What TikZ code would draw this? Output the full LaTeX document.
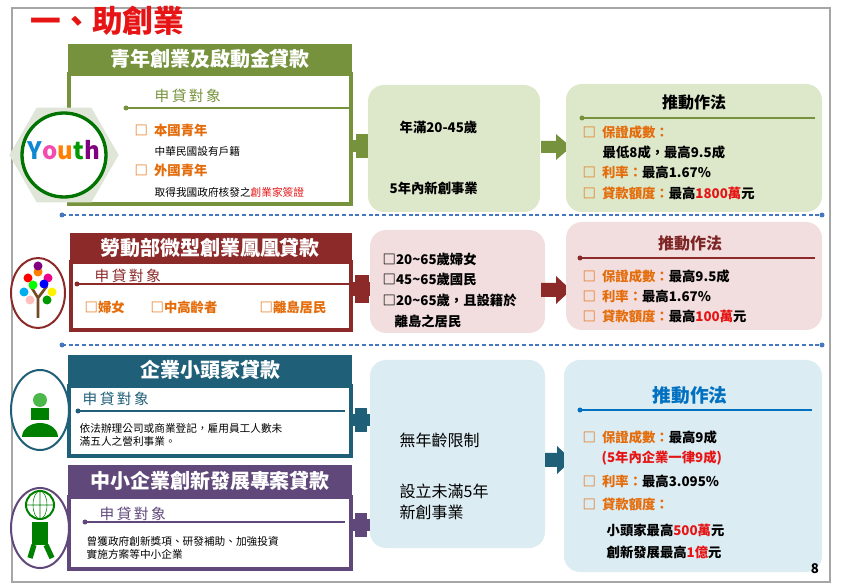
\documentclass[tikz,border=0pt]{standalone}
\usepackage{fontspec}
\setmainfont{Noto Sans CJK TC}
\usetikzlibrary{shapes.geometric}
\definecolor{gr}{RGB}{118,146,60}
\definecolor{grl}{RGB}{221,232,203}
\definecolor{dr}{RGB}{140,42,42}
\definecolor{pk}{RGB}{242,222,222}
\definecolor{tl}{RGB}{31,95,120}
\definecolor{pu}{RGB}{96,73,122}
\definecolor{bl}{RGB}{219,236,243}
\definecolor{og}{RGB}{228,108,10}
\definecolor{rd}{RGB}{230,20,20}
\definecolor{bt}{RGB}{0,112,192}
\definecolor{dsh}{RGB}{70,120,190}
\begin{document}
\begin{tikzpicture}[x=0.75pt,y=-0.75pt,
 hdr/.style={font=\bfseries\fontsize{15}{17}\selectfont,text=white,anchor=center},
 sub/.style={font=\fontsize{11}{13}\selectfont,anchor=west},
 txt/.style={font=\bfseries\fontsize{10}{12}\selectfont,anchor=west,align=left},
 sm/.style={font=\fontsize{8}{10}\selectfont,anchor=west,align=left},
 itm/.style={font=\bfseries\fontsize{10}{12}\selectfont,anchor=west,text=og},
 bx/.style={rounded corners=12pt,draw=none},
 tt/.style={font=\bfseries\fontsize{12}{14}\selectfont,anchor=center}]
\useasboundingbox (0,0) rectangle (844,588);
\draw[gray!70,line width=1pt] (12,8) rectangle (830,582);
\node[font=\bfseries\fontsize{23}{25}\selectfont,text=rd,anchor=west] (title) at (26,21) {一、助創業};
% row 1
\fill[gr] (68,44) rectangle (352,74);
\node[hdr] (h1) at (210,59) {青年創業及啟動金貸款};
\draw[gr,line width=2.5pt] (69,74) rectangle (351,204);
\node[regular polygon,regular polygon sides=6,minimum size=82pt,fill=grl!80!gray!60,draw=none] (hex) at (64,155) {};
\draw[green!45!black,line width=2.5pt,fill=white] (64,155) ellipse (42 and 42);
\node[font=\bfseries\fontsize{18}{18}\selectfont] (youth) at (64,150) {\textcolor{cyan!70!blue}{Y}\textcolor{magenta!70}{o}\textcolor{orange}{u}\textcolor{green!60!black}{t}\textcolor{violet}{h}};
\node[sub,text=gr] (s1) at (150,96) {申\,貸\,對\,象};
\fill[gr] (126,108) circle (2.5); \draw[gr,thick] (126,108) -- (350,108);
\node[itm] (a1) at (130,130) {□\ \ 本國青年};
\node[sm] (a2) at (150,151) {中華民國設有戶籍};
\node[itm] (a3) at (130,170) {□\ \ 外國青年};
\node[sm] (a4) at (150,192) {取得我國政府核發之\textcolor{rd}{創業家簽證}};
\fill[gr] (350,140) rectangle (374,152); \fill[gr] (356,134) rectangle (368,158);
\fill[bx,grl] (368,85) rectangle (540,212);
\node[txt] (c1) at (395,127) {年滿20-45歲};
\node[txt] (c2) at (385,188) {5年內新創事業};
\fill[gr] (541,141) -- (556,141) -- (556,134) -- (571,147) -- (556,160) -- (556,153) -- (541,153) -- cycle;
\fill[bx,grl] (566,84) rectangle (822,212);
\node[tt] (p1) at (694,102) {推動作法};
\fill[gr] (582,118) circle (2.5); \draw[gr,thick] (582,118) -- (815,118);
\node[txt] (d1) at (578,132) {\textcolor{og}{□\ \ 保證成數：}};
\node[txt] (d2) at (598,152) {最低8成，最高9.5成};
\node[txt] (d3) at (578,172) {\textcolor{og}{□\ \ 利率：}最高1.67\%};
\node[txt] (d4) at (578,193) {\textcolor{og}{□\ \ 貸款額度：}最高\textcolor{rd}{1800萬}元};
\draw[dsh,densely dashed,thick] (62,215) -- (822,215);
\fill[dsh] (62,215) circle (2.5); \fill[dsh] (822,215) circle (2.5);
% row 2
\fill[dr] (70,233) rectangle (352,262);
\node[hdr] (h2) at (210,248) {勞動部微型創業鳳凰貸款};
\draw[dr,line width=2.5pt] (71,262) rectangle (351,330);
\draw[dr,line width=1.5pt,fill=white] (38,293) ellipse (27 and 35);
\draw[brown!60!black,line width=2pt] (38,318) -- (38,298) -- (30,285) (38,298) -- (47,286);
\foreach \x/\y/\c in {28/278/red,38/272/orange,48/278/magenta,24/292/cyan,52/292/yellow,33/285/green,44/284/blue,30/300/pink,47/300/green!60!black,38/266/violet}
  \fill[\c] (\x,\y) circle (4.5);
\node[sub,text=dr] (s2) at (90,276) {申\,貸\,對\,象};
\fill[dr] (77,284) circle (2.5); \draw[dr,thick] (77,284) -- (352,284);
\node[itm] (b1) at (80,307) {□婦女};
\node[itm] (b2) at (146,307) {□中高齡者};
\node[itm] (b3) at (255,307) {□離島居民};
\fill[dr] (349,282) rectangle (376,296); \fill[dr] (355,275) rectangle (369,303);
\fill[bx,pk] (370,230) rectangle (545,333);
\node[txt] (e1) at (378,259) {□20\textasciitilde65歲婦女};
\node[txt] (e2) at (378,279) {□45\textasciitilde65歲國民};
\node[txt] (e3) at (378,300) {□20\textasciitilde65歲，且設籍於};
\node[txt] (e4) at (390,321) {離島之居民};
\fill[dr] (541,283) -- (556,283) -- (556,276) -- (571,290) -- (556,304) -- (556,297) -- (541,297) -- cycle;
\fill[bx,pk] (566,222) rectangle (822,330);
\node[tt,text=dr!90!black] (p2) at (690,243) {推動作法};
\fill[dr] (580,258) circle (2.5); \draw[dr,thick] (580,258) -- (815,258);
\node[txt] (f1) at (578,276) {\textcolor{og}{□\ \ 保證成數：}最高9.5成};
\node[txt] (f2) at (578,296) {\textcolor{og}{□\ \ 利率：}最高1.67\%};
\node[txt] (f3) at (578,316) {\textcolor{og}{□\ \ 貸款額度：}最高\textcolor{rd}{100萬}元};
\draw[dsh,densely dashed,thick] (62,345) -- (822,345);
\fill[dsh] (62,345) circle (2.5); \fill[dsh] (822,345) circle (2.5);
% row 3
\fill[tl] (68,355) rectangle (352,386);
\node[hdr] (h3) at (210,370) {企業小頭家貸款};
\draw[tl,line width=2.5pt] (69,386) rectangle (351,456);
\draw[tl,line width=1.5pt,fill=white] (40,410) ellipse (29 and 40);
\fill[green!50!black] (22,437) arc (180:360:18 and 14) -- cycle;
\fill[green!50!black] (31,408) rectangle (49,420);
\fill[green!60!black!70] (40,400) circle (7);
\node[sub,text=tl] (s3) at (78,399) {申\,貸\,對\,象};
\fill[tl] (78,411) circle (2.5); \draw[tl,thick] (78,411) -- (345,411);
\node[sm] (g1) at (75,435) {依法辦理公司或商業登記，雇用員工人數未\\滿五人之營利事業。};
\fill[pu] (68,465) rectangle (352,497);
\node[hdr] (h4) at (210,481) {中小企業創新發展專案貸款};
\draw[pu,line width=2.5pt] (69,497) rectangle (351,569);
\draw[pu,line width=1.5pt,fill=white] (40,528) ellipse (29 and 40);
\draw[green!50!black,line width=1.5pt] (40,505) circle (14);
\draw[green!50!black] (26,505) -- (54,505) (40,491) -- (40,519) (40,505) ellipse (7 and 14);
\fill[green!50!black] (32,522) rectangle (48,545);
\draw[green!50!black,line width=4pt] (34,545) -- (30,558) (46,545) -- (52,558);
\node[sub,text=pu] (s4) at (95,514) {申\,貸\,對\,象};
\fill[pu] (85,522) circle (2.5); \draw[pu,thick] (85,522) -- (345,522);
\node[sm] (g2) at (82,548) {曾獲政府創新獎項、研發補助、加強投資\\實施方案等中小企業};
\fill[tl] (349,414) rectangle (373,426); \fill[tl] (355,408) rectangle (367,432);
\fill[pu] (349,519) rectangle (373,531); \fill[pu] (355,513) rectangle (367,537);
\fill[bx,bl] (370,360) rectangle (545,548);
\node[txt,font=\fontsize{12}{14}\selectfont] (k1) at (395,440) {無年齡限制};
\node[txt,font=\fontsize{12}{16}\selectfont] (k2) at (395,502) {設立未滿5年\\新創事業};
\fill[tl] (545,453) -- (557,453) -- (557,446) -- (572,460) -- (557,474) -- (557,467) -- (545,467) -- cycle;
\fill[bx,bl] (564,360) rectangle (822,572);
\node[tt,text=bt,font=\bfseries\fontsize{14}{16}\selectfont] (p3) at (690,395) {推動作法};
\fill[bt] (580,410) circle (2.5); \draw[bt,thick] (580,410) -- (812,410);
\node[txt] (m1) at (578,437) {\textcolor{og}{□\ \ 保證成數：}最高9成};
\node[txt] (m2) at (597,458) {\textcolor{rd}{(5年內企業一律9成)}};
\node[txt] (m3) at (578,481) {\textcolor{og}{□\ \ 利率：}最高3.095\%};
\node[txt] (m4) at (578,504) {\textcolor{og}{□\ \ 貸款額度：}};
\node[txt] (m5) at (602,530) {小頭家最高\textcolor{rd}{500萬}元};
\node[txt] (m6) at (602,552) {創新發展最高\textcolor{rd}{1億}元};
\node[font=\bfseries\fontsize{10}{12}\selectfont] (pg) at (815,569) {8};
\end{tikzpicture}
\end{document}
